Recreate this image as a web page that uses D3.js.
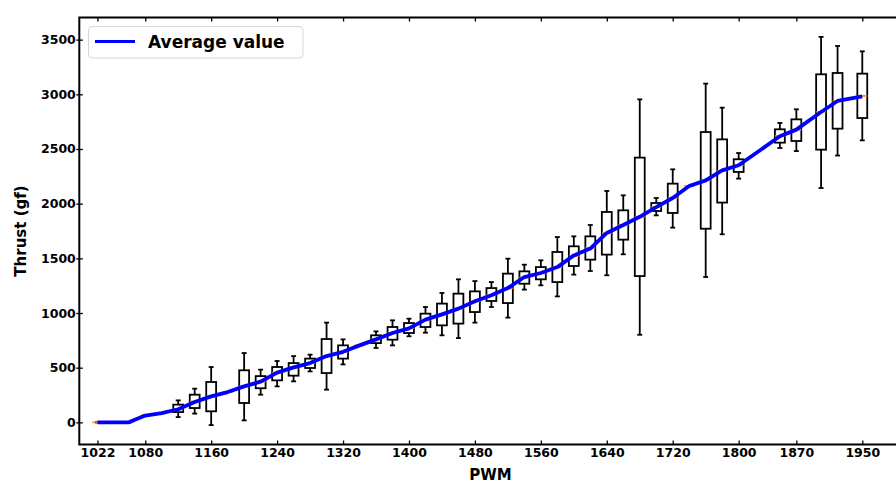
<!DOCTYPE html>
<html>
<head>
<meta charset="utf-8">
<script src="https://cdn.jsdelivr.net/npm/d3@7"></script>
<style>
  html, body { margin: 0; padding: 0; background: #fff; }
  svg { display: block; font-family: "DejaVu Sans", sans-serif; font-weight: bold; }
</style>
</head>
<body>
<svg id="chart" width="896" height="483"></svg>
<script>
// PWM set-points and thrust statistics (gf) at each one
const pwm = [1022, 1040, 1060, 1080, 1100, 1120, 1140, 1160, 1180, 1200, 1220, 1240, 1260, 1280,
  1300, 1320, 1340, 1360, 1380, 1400, 1420, 1440, 1460, 1480, 1500, 1520, 1540, 1560, 1580,
  1600, 1620, 1640, 1660, 1680, 1700, 1720, 1740, 1760, 1780, 1800, 1850, 1870, 1900, 1920, 1950];
const whiskerLow = [0, 0, 0, 62, 85, 48, 80, -25, 277, 18, 253, 329, 375, 466,
  299, 530, 704, 680, 704, 787, 820, 796, 771, 912, 1055, 958, 1214, 1253, 1152,
  1351, 1384, 1345, 1537, 801, 1893, 1781, 2161, 1329, 1720, 2229, 2509, 2481, 2143, 2440, 2579];
const q1 = [0, 0, 0, 62, 85, 94, 131, 101, 277, 177, 312, 384, 427, 497,
  451, 583, 704, 725, 756, 817, 872, 887, 903, 1009, 1110, 1091, 1268, 1308, 1283,
  1430, 1488, 1534, 1671, 1338, 1933, 1915, 2161, 1771, 2010, 2290, 2558, 2573, 2494, 2686, 2783];
const median = [0, 0, 0, 62, 85, 118, 190, 238, 277, 330, 370, 455, 500, 542,
  606, 645, 704, 760, 815, 860, 935, 985, 1040, 1105, 1165, 1225, 1325, 1365, 1420,
  1520, 1595, 1730, 1805, 1880, 1970, 2050, 2161, 2213, 2300, 2350, 2620, 2675, 2840, 2940, 2985];
const q3 = [0, 0, 0, 62, 85, 162, 253, 369, 277, 476, 423, 506, 542, 583,
  762, 704, 704, 796, 872, 908, 994, 1086, 1177, 1198, 1228, 1360, 1381, 1420, 1558,
  1610, 1701, 1924, 1939, 2421, 2006, 2183, 2161, 2655, 2588, 2406, 2680, 2771, 3183, 3195, 3189];
const whiskerHigh = [0, 0, 0, 62, 85, 201, 308, 506, 277, 634, 482, 561, 606, 619,
  912, 759, 704, 832, 933, 948, 1055, 1183, 1308, 1292, 1283, 1497, 1442, 1482, 1695,
  1701, 1805, 2116, 2076, 2954, 2052, 2314, 2161, 3098, 2878, 2463, 2738, 2863, 3525, 3442, 3393];
const average = [0, 0, 0, 62, 85, 120, 186, 238, 277, 329, 372, 455, 503, 542,
  606, 645, 704, 759, 817, 860, 939, 988, 1040, 1107, 1162, 1228, 1329, 1366, 1420,
  1527, 1589, 1732, 1805, 1880, 1969, 2052, 2161, 2213, 2305, 2351, 2616, 2677, 2838, 2939, 2982];

const xTicks = [1022, 1080, 1160, 1240, 1320, 1400, 1480, 1560, 1640, 1720, 1800, 1870, 1950];
const yTicks = [0, 500, 1000, 1500, 2000, 2500, 3000, 3500];

const rows = pwm.map((p, i) => ({
  pwm: p, lo: whiskerLow[i], q1: q1[i], med: median[i], q3: q3[i], hi: whiskerHigh[i], avg: average[i]
}));

const svg = d3.select("#chart");
const plot = { left: 79.3, right: 903.5, top: 17.5, bottom: 444.5 };

// y limits padded by 5% of the whisker span
const yMin = d3.min(whiskerLow), yMax = d3.max(whiskerHigh);
const pad = (yMax - yMin) * 0.05;

const x = d3.scaleLinear().domain([1000, 2000]).range([plot.left, plot.right]);
const y = d3.scaleLinear().domain([yMin - pad, yMax + pad]).range([plot.bottom, plot.top]);

const boxWidth = 12;  // in PWM units
const halfPx = (x(1000 + boxWidth) - x(1000)) / 2;
const sw = 1.8;

// box plots
const g = svg.append("g");
const box = g.selectAll("g.box").data(rows).join("g").attr("class", "box");

box.append("line")
  .attr("x1", d => x(d.pwm)).attr("x2", d => x(d.pwm))
  .attr("y1", d => y(d.hi)).attr("y2", d => y(d.q3))
  .attr("stroke", "#000").attr("stroke-width", sw);
box.append("line")
  .attr("x1", d => x(d.pwm)).attr("x2", d => x(d.pwm))
  .attr("y1", d => y(d.q1)).attr("y2", d => y(d.lo))
  .attr("stroke", "#000").attr("stroke-width", sw);
box.append("line")
  .attr("x1", d => x(d.pwm) - halfPx / 2).attr("x2", d => x(d.pwm) + halfPx / 2)
  .attr("y1", d => y(d.hi)).attr("y2", d => y(d.hi))
  .attr("stroke", "#000").attr("stroke-width", sw);
box.append("line")
  .attr("x1", d => x(d.pwm) - halfPx / 2).attr("x2", d => x(d.pwm) + halfPx / 2)
  .attr("y1", d => y(d.lo)).attr("y2", d => y(d.lo))
  .attr("stroke", "#000").attr("stroke-width", sw);
box.append("rect")
  .attr("x", d => x(d.pwm) - halfPx).attr("width", halfPx * 2)
  .attr("y", d => y(d.q3)).attr("height", d => y(d.q1) - y(d.q3))
  .attr("fill", "none").attr("stroke", "#000").attr("stroke-width", sw);
box.append("line")
  .attr("x1", d => x(d.pwm) - halfPx).attr("x2", d => x(d.pwm) + halfPx)
  .attr("y1", d => y(d.med)).attr("y2", d => y(d.med))
  .attr("stroke", "#ff7f0e").attr("stroke-width", 1.6);

// average curve
const line = d3.line().x(d => x(d.pwm)).y(d => y(d.avg));
svg.append("path")
  .datum(rows)
  .attr("d", line)
  .attr("fill", "none")
  .attr("stroke", "#0000ff")
  .attr("stroke-width", 3.8)
  .attr("stroke-linejoin", "round");

// axes
const xAxis = svg.append("g")
  .attr("transform", `translate(0,${plot.bottom})`)
  .call(d3.axisBottom(x).tickValues(xTicks).tickSize(-4).tickPadding(3.6).tickFormat(d3.format("d")));
xAxis.select(".domain").remove();
xAxis.selectAll("line").attr("stroke-width", 1.3);
xAxis.selectAll("text").attr("font-size", 12.5).attr("font-weight", "bold")
  .attr("font-family", "DejaVu Sans").attr("fill", "#000");

const xTop = svg.append("g")
  .attr("transform", `translate(0,${plot.top})`)
  .call(d3.axisTop(x).tickValues(xTicks).tickSize(-4).tickFormat(""));
xTop.select(".domain").remove();
xTop.selectAll("line").attr("stroke-width", 1.3);

const yAxis = svg.append("g")
  .attr("transform", `translate(${plot.left},0)`)
  .call(d3.axisLeft(y).tickValues(yTicks).tickSize(3).tickPadding(0.5).tickFormat(d3.format("d")));
yAxis.select(".domain").remove();
yAxis.selectAll("line").attr("x1", 3.5).attr("stroke-width", 1.3);
yAxis.selectAll("text").attr("font-size", 12.5).attr("font-weight", "bold")
  .attr("font-family", "DejaVu Sans").attr("fill", "#000");

// frame
svg.append("rect")
  .attr("x", plot.left).attr("y", plot.top)
  .attr("width", plot.right - plot.left).attr("height", plot.bottom - plot.top)
  .attr("fill", "none").attr("stroke", "#000").attr("stroke-width", 2);

// axis titles
svg.append("text")
  .attr("x", (plot.left + plot.right) / 2 - 1).attr("y", 480)
  .attr("text-anchor", "middle").attr("font-size", 15).attr("font-weight", "bold")
  .text("PWM");
svg.append("text")
  .attr("transform", `translate(26,${(plot.top + plot.bottom) / 2}) rotate(-90)`)
  .attr("text-anchor", "middle").attr("font-size", 15).attr("font-weight", "bold")
  .text("Thrust (gf)");

// legend
const legend = svg.append("g");
legend.append("rect")
  .attr("x", 88.5).attr("y", 26.5).attr("width", 214.5).attr("height", 31.5).attr("rx", 4)
  .attr("fill", "#fff").attr("fill-opacity", 0.8).attr("stroke", "#d6d6d6").attr("stroke-width", 1);
legend.append("line")
  .attr("x1", 95).attr("x2", 135).attr("y1", 41.5).attr("y2", 41.5)
  .attr("stroke", "#0000ff").attr("stroke-width", 3);
legend.append("text")
  .attr("x", 148).attr("y", 47.5).attr("font-size", 17).attr("font-weight", "bold")
  .text("Average value");
</script>
</body>
</html>
